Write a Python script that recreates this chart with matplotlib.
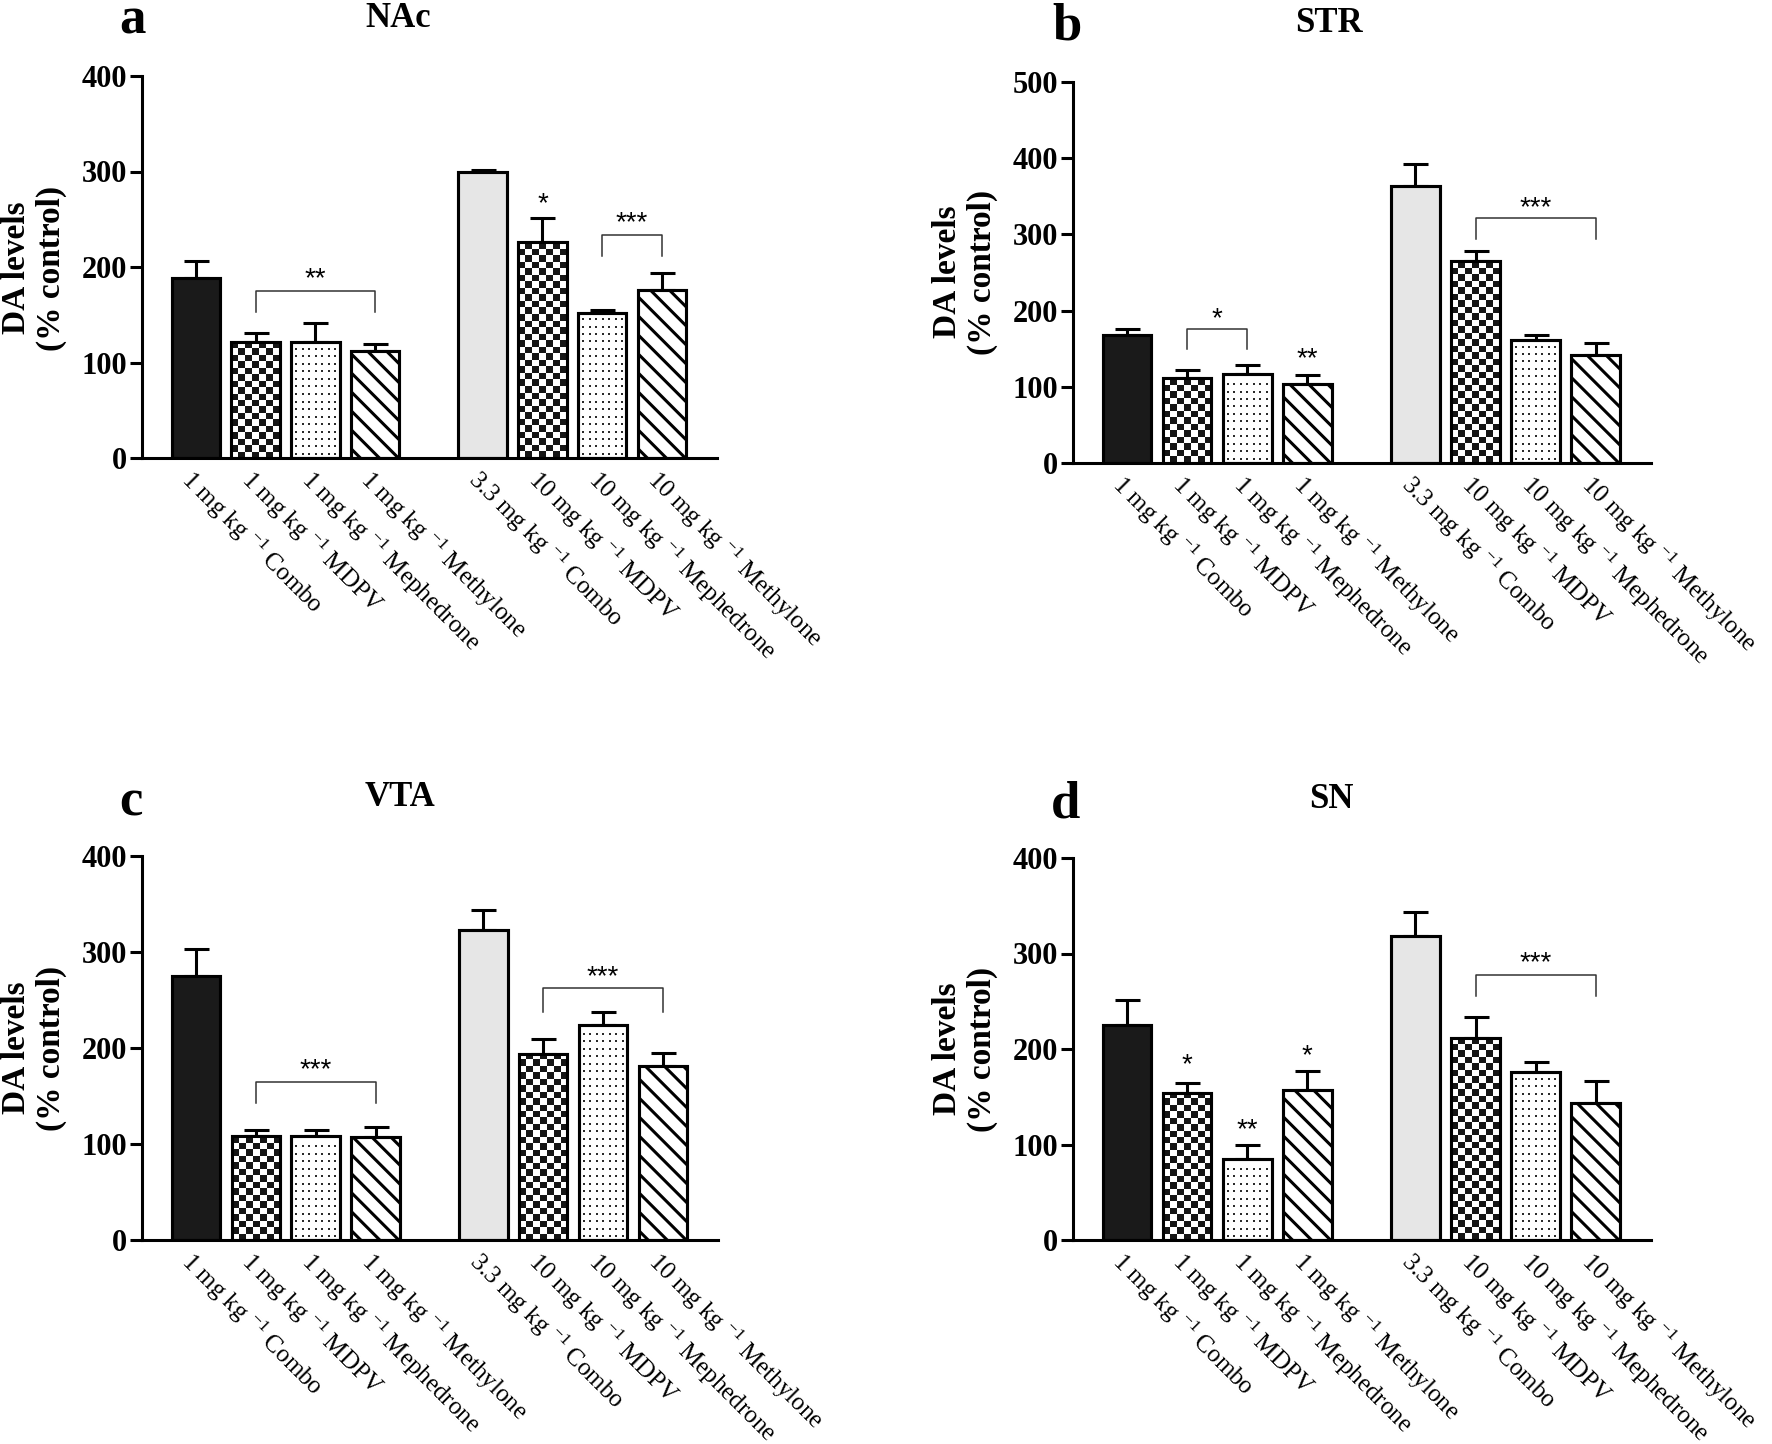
import numpy as np
import matplotlib
matplotlib.use("Agg")
import matplotlib.pyplot as plt
from matplotlib.colors import ListedColormap
from matplotlib.collections import LineCollection

# label sumbu x (sama untuk keempat panel)
labels = ["1 mg kg $^{-1}$ Combo", "1 mg kg $^{-1}$ MDPV",
          "1 mg kg $^{-1}$ Mephedrone", "1 mg kg $^{-1}$ Methylone",
          "3.3 mg kg $^{-1}$ Combo", "10 mg kg $^{-1}$ MDPV",
          "10 mg kg $^{-1}$ Mephedrone", "10 mg kg $^{-1}$ Methylone"]
patterns = ["solid", "checker", "dots", "stripes", "gray", "checker", "dots", "stripes"]

# nilai rata-rata dan SEM
nac_mean = [189, 121, 121, 112, 299, 226, 152, 176]
nac_sem = [17, 10, 20, 7, 3, 25, 2.5, 18]
str_mean = [168, 111, 117, 104, 363, 265, 161, 142]
str_sem = [8, 11, 12, 11, 30, 13, 7, 15]
vta_mean = [275, 108, 108, 107, 323, 194, 224, 181]
vta_sem = [28, 7, 7, 11, 21, 15, 14, 14]
sn_mean = [225, 154, 85, 157, 318, 212, 176, 143]
sn_sem = [26, 10, 14, 20, 25, 22, 10, 23]

# tanda signifikansi: (bar_awal, bar_akhir, y_garis, y_kaki, y_teks, teks)
nac_brackets = [(1, 3, 175, 153, 187, "**"), (6, 7, 234, 211, 246, "***")]
nac_stars = [(5, 266, "*")]
str_brackets = [(1, 2, 176, 150, 189, "*"), (5, 7, 322, 294, 334, "***")]
str_stars = [(3, 136, "**")]
vta_brackets = [(1, 3, 165, 143, 177, "***"), (5, 7, 262, 238, 274, "***")]
vta_stars = []
sn_brackets = [(5, 7, 278, 256, 290, "***")]
sn_stars = [(1, 183, "*"), (2, 115, "**"), (3, 192, "*")]

W, H = 1772, 1444
plt.rcParams["font.family"] = ["Liberation Serif", "DejaVu Serif"]
plt.rcParams["mathtext.default"] = "regular"

fig = plt.figure(figsize=(W / 100, H / 100), dpi=100)

pos = [0, 1, 2, 3, 4.8, 5.8, 6.8, 7.8]
lw = 2.2
bar_w = 0.81


def px_box(left, top, right, bottom):
    return [left / W, 1 - bottom / H, (right - left) / W, (bottom - top) / H]


def bar_px(ax, bar):
    x0, w, h = bar.get_x(), bar.get_width(), bar.get_height()
    p0 = ax.transData.transform((x0, 0))
    p1 = ax.transData.transform((x0 + w, h))
    return p0, p1


# pola isi batang (papan catur, titik, garis miring), dipotong mengikuti batang
def checker(ax, bar, cell=6.5):
    p0, p1 = bar_px(ax, bar)
    nx = max(1, int(round((p1[0] - p0[0]) / cell)))
    ny = max(1, int(round((p1[1] - p0[1]) / cell)))
    grid = np.indices((ny, nx)).sum(axis=0) % 2
    x0, w, h = bar.get_x(), bar.get_width(), bar.get_height()
    im = ax.imshow(grid, cmap=ListedColormap(["white", "#151515"]),
                   extent=(x0, x0 + w, 0, h), origin="lower",
                   interpolation="nearest", aspect="auto", zorder=2.1)
    im.set_clip_path(bar)


def dots(ax, bar, dx=6.5, dy=7.5):
    p0, p1 = bar_px(ax, bar)
    xs = np.arange(p0[0] + 5, p1[0] - 3, dx)
    ys = np.arange(p0[1] + 4, p1[1] - 3, dy)
    X, Y = np.meshgrid(xs, ys)
    pts = ax.transData.inverted().transform(np.column_stack([X.ravel(), Y.ravel()]))
    sc = ax.scatter(pts[:, 0], pts[:, 1], s=2.4, marker="s", color="#2a2a2a",
                    linewidths=0, zorder=2.1)
    sc.set_clip_path(bar)


def stripes(ax, bar, step=19):
    p0, p1 = bar_px(ax, bar)
    segs = []
    for c in np.arange(p0[0] + p0[1] + step * 0.5, p1[0] + p1[1] + step, step):
        xa, xb = p0[0] - 10, p1[0] + 10
        a = ax.transData.inverted().transform((xa, c - xa))
        b = ax.transData.inverted().transform((xb, c - xb))
        segs.append([a, b])
    lc = LineCollection(segs, colors="black", linewidths=2.2, zorder=2.1)
    ax.add_collection(lc)
    lc.set_clip_path(bar)


def panel(box, mean, sem, ymax, brackets, stars, letter, title, letter_xy, title_xy, ylab_xy):
    ax = fig.add_axes(px_box(*box))
    ax.set_xlim(-0.9, 8.72)
    ax.set_ylim(0, ymax)
    ax.set_autoscale_on(False)

    for x, m, pat in zip(pos, mean, patterns):
        face = {"solid": "#1a1a1a", "gray": "#e6e6e6"}.get(pat, "white")
        b = ax.bar(x, m, width=bar_w, color=face, edgecolor="black",
                   linewidth=lw, zorder=2)[0]
        if pat == "checker":
            checker(ax, b)
        elif pat == "dots":
            dots(ax, b)
        elif pat == "stripes":
            stripes(ax, b)
    # garis tepi di atas pola
    ax.bar(pos, mean, width=bar_w, fill=False, edgecolor="black", linewidth=lw, zorder=3)
    ax.errorbar(pos, mean, yerr=[np.zeros(len(sem)), sem], fmt="none",
                ecolor="black", elinewidth=lw, capsize=9, capthick=lw, zorder=1.5)

    for i, j, yb, yl, yt, txt in brackets:
        ax.plot([pos[i], pos[i], pos[j], pos[j]], [yl, yb, yb, yl],
                color="#333333", lw=1.1, zorder=4)
        ax.text((pos[i] + pos[j]) / 2, yt, txt, ha="center", va="center",
                fontsize=20, family="Liberation Sans")
    for i, yt, txt in stars:
        ax.text(pos[i], yt, txt, ha="center", va="center",
                fontsize=20, family="Liberation Sans")

    for s in ("top", "right"):
        ax.spines[s].set_visible(False)
    for s in ("left", "bottom"):
        ax.spines[s].set_linewidth(lw)
    ax.set_yticks(np.arange(0, ymax + 1, 100))
    ax.tick_params(axis="y", direction="out", length=8.5, width=lw, pad=2, labelsize=22)
    for t in ax.get_yticklabels():
        t.set_fontweight("bold")
    ax.set_xticks(pos)
    ax.set_xticklabels(labels, rotation=-45, ha="left", va="top",
                       rotation_mode="anchor", fontsize=18)
    ax.tick_params(axis="x", length=0, pad=5)

    fig.text(letter_xy[0] / W, 1 - letter_xy[1] / H, letter, fontsize=38,
             fontweight="bold", ha="center", va="baseline")
    fig.text(title_xy[0] / W, 1 - title_xy[1] / H, title, fontsize=25,
             fontweight="bold", ha="center", va="baseline")
    fig.text(ylab_xy[0] / W, 1 - ylab_xy[1] / H, "DA levels\n(% control)",
             fontsize=24, fontweight="bold", rotation=90, ha="center",
             va="center", multialignment="center", linespacing=1.15)
    return ax


panel((142, 76, 717, 458), nac_mean, nac_sem, 400, nac_brackets, nac_stars,
      "a", "NAc", (132, 34), (398, 27), (34, 268))
panel((1073, 82, 1651, 463), str_mean, str_sem, 500, str_brackets, str_stars,
      "b", "STR", (1067, 39), (1329, 32), (965, 272))
panel((142, 856, 718, 1240), vta_mean, vta_sem, 400, vta_brackets, vta_stars,
      "c", "VTA", (131, 815), (400, 806), (34, 1048))
panel((1073, 858, 1651, 1240), sn_mean, sn_sem, 400, sn_brackets, sn_stars,
      "d", "SN", (1066, 817), (1331, 808), (965, 1049))

fig.savefig("out.png", dpi=100)
